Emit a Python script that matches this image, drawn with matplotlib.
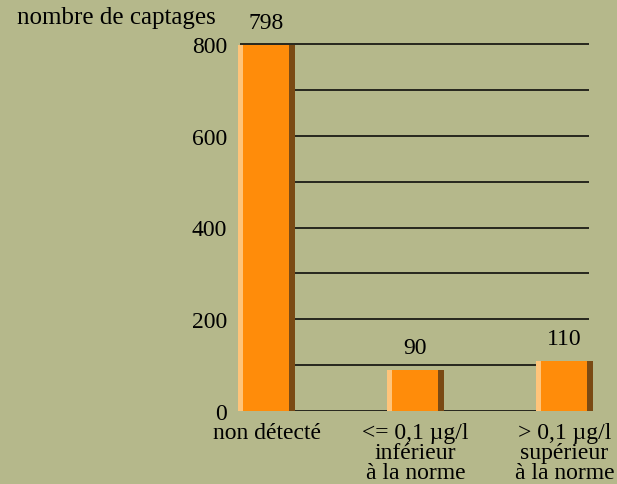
import numpy as np
import matplotlib.pyplot as plt

categories = ['non détecté', '<= 0,1 µg/l\ninférieur\nà la norme', '> 0,1 µg/l\nsupérieur\nà la norme']
values = [798, 90, 110]
yticks = [0, 200, 400, 600, 800]

bg = '#b5b88b'
plt.rcParams['font.family'] = ['Liberation Serif', 'DejaVu Serif']
fs = 17

fig = plt.figure(figsize=(6.17, 4.85), dpi=100, facecolor=bg)
ax = fig.add_axes([238/617, 1 - 412/485, 355/617, 367/485 * 880/800])
ax.set_facecolor(bg)

x = np.arange(len(categories))
w = 0.384
# fake 3d bar: light strip, orange body, dark side
ax.bar(x - w/2, values, width=w*5/57, align='edge', color='#ffc47a', zorder=3)
ax.bar(x - w/2 + w*5/57, values, width=w*46/57, align='edge', color='#ff8c0a', zorder=3)
ax.bar(x + w/2 - w*6/57, values, width=w*6/57, align='edge', color='#7a4a14', zorder=3)

for v in range(0, 801, 100):
    ax.hlines(v, -0.18, 2.165, color='black', lw=1.1, zorder=2)

for xi, v in zip(x, values):
    ax.text(xi, v + 26, str(v), ha='center', va='bottom', fontsize=fs)

ax.set_xlim(-w/2, 2 + w/2)
ax.set_ylim(0, 880)
ax.set_yticks(yticks)
ax.set_yticklabels([str(t) for t in yticks], fontsize=fs, va='center_baseline')
ax.set_xticks(x)
ax.set_xticklabels(categories, fontsize=fs, linespacing=0.92)
ax.tick_params(length=0, pad=8)
ax.tick_params(axis='x', pad=8)
for s in ax.spines.values():
    s.set_visible(False)

fig.text(17/617, 1 - 18/485, 'nombre de captages', fontsize=18, va='center', ha='left')

fig.savefig('out.png', dpi=100, facecolor=bg)
